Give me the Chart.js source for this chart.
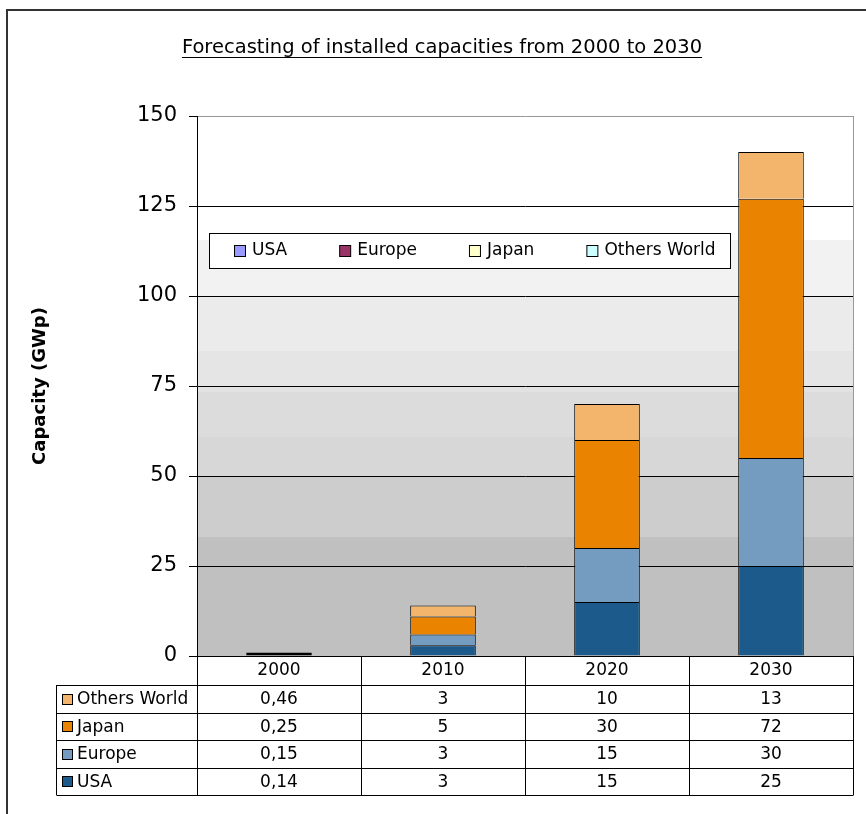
<!DOCTYPE html>
<html><head><meta charset="utf-8">
<script src="https://cdn.jsdelivr.net/npm/chart.js@4.4.1/dist/chart.umd.min.js"></script>
<style>html,body{margin:0;padding:0;background:#fff;} canvas{display:block;}</style>
</head><body>
<canvas id="c" width="866" height="814"></canvas>
<script>
const categories = ['2000', '2010', '2020', '2030'];
const usa = [0.14, 3, 15, 25];
const europe = [0.15, 3, 15, 30];
const japan = [0.25, 5, 30, 72];
const othersWorld = [0.46, 3, 10, 13];
const seriesNames = ['USA', 'Europe', 'Japan', 'Others World'];
const yTicks = [0, 25, 50, 75, 100, 125, 150];
const chartTitle = 'Forecasting of installed capacities from 2000 to 2030';
const yAxisTitle = 'Capacity (GWp)';

const barColors = ['#1b5a8a', '#739cc0', '#e98300', '#f2b56b'];
const legendColors = ['#9999ff', '#993366', '#ffffcc', '#ccffff'];
const FONT = '"DejaVu Sans", sans-serif';

const seriesValues = [usa, europe, japan, othersWorld];

const bgPlugin = {
  id: 'bg',
  beforeDraw(chart) {
    const ctx = chart.ctx, a = chart.chartArea, y = chart.scales.y;
    ctx.save();
    ctx.fillStyle = '#ffffff';
    ctx.fillRect(0, 0, chart.width, chart.height);
    const bands = [[150, 115.6, '#ffffff'], [115.6, 100, '#f2f2f2'], [100, 84.7, '#ebebeb'],
      [84.7, 75, '#e5e5e5'], [75, 73.3, '#e2e2e2'], [73.3, 60.8, '#dcdcdc'], [60.8, 50, '#d7d7d7'],
      [50, 33, '#cdcdcd'], [33, 0, '#c0c0c0']];
    bands.forEach(b => {
      const t = Math.round(y.getPixelForValue(b[0])), bt = Math.round(y.getPixelForValue(b[1]));
      ctx.fillStyle = b[2];
      ctx.fillRect(a.left, t, a.right - a.left, bt - t);
    });
    ctx.restore();
  }
};

const decorPlugin = {
  id: 'decor',
  afterDraw(chart) {
    const ctx = chart.ctx, a = chart.chartArea, xs = chart.scales.x;
    ctx.save();
    // outer frame
    ctx.strokeStyle = '#333';
    ctx.lineWidth = 2;
    ctx.beginPath();
    ctx.moveTo(7, 814); ctx.lineTo(7, 10); ctx.lineTo(866, 10);
    ctx.stroke();

    // plot area right border (gray)
    ctx.strokeStyle = '#999';
    ctx.lineWidth = 1;
    ctx.beginPath();
    ctx.moveTo(a.right + 0.5, a.top); ctx.lineTo(a.right + 0.5, a.bottom);
    ctx.stroke();

    // title
    ctx.fillStyle = '#000';
    ctx.font = '19.5px ' + FONT;
    ctx.textAlign = 'center';
    ctx.textBaseline = 'alphabetic';
    const tx = 442, ty = 53;
    ctx.fillText(chartTitle, tx, ty);
    const tw = ctx.measureText(chartTitle).width;
    ctx.strokeStyle = '#000';
    ctx.beginPath();
    ctx.moveTo(tx - tw / 2, ty + 4.5); ctx.lineTo(tx + tw / 2, ty + 4.5);
    ctx.stroke();

    // y axis title
    ctx.save();
    ctx.translate(40, 386);
    ctx.rotate(-Math.PI / 2);
    ctx.font = 'bold 18px ' + FONT;
    ctx.textAlign = 'center';
    ctx.textBaseline = 'middle';
    ctx.fillText(yAxisTitle, 0, 0);
    ctx.restore();

    // legend inside plot
    ctx.fillStyle = '#fff';
    ctx.fillRect(209.5, 233.5, 521, 35);
    ctx.strokeStyle = '#000';
    ctx.strokeRect(209.5, 233.5, 521, 35);
    ctx.font = '17px ' + FONT;
    ctx.textAlign = 'left';
    ctx.textBaseline = 'middle';
    let lx = 234;
    seriesNames.forEach((n, i) => {
      ctx.fillStyle = legendColors[i];
      ctx.fillRect(lx + 0.5, 245.5, 11, 11);
      ctx.strokeStyle = '#000';
      ctx.strokeRect(lx + 0.5, 245.5, 11, 11);
      ctx.fillStyle = '#000';
      ctx.fillText(n, lx + 18, 251);
      lx += 18 + ctx.measureText(n).width + 52;
    });

    // data table
    const catW = (a.right - a.left) / categories.length;
    const tableLeft = 56.5;
    const headTop = a.bottom;
    const headBottom = a.bottom + 29;
    const rowH = 27.5;
    const tableBottom = headBottom + rowH * seriesNames.length;
    ctx.strokeStyle = '#000';
    ctx.lineWidth = 1;
    ctx.beginPath();
    for (let i = 0; i <= categories.length; i++) {
      const vx = Math.round(a.left + i * catW) + 0.5;
      ctx.moveTo(vx, headTop); ctx.lineTo(vx, tableBottom);
    }
    ctx.moveTo(tableLeft, headBottom); ctx.lineTo(tableLeft, tableBottom);
    for (let r = 0; r <= seriesNames.length; r++) {
      const hy = Math.round(headBottom + r * rowH) + 0.5;
      ctx.moveTo(tableLeft, hy); ctx.lineTo(a.right + 0.5, hy);
    }
    ctx.stroke();

    ctx.font = '17px ' + FONT;
    ctx.fillStyle = '#000';
    ctx.textAlign = 'center';
    ctx.textBaseline = 'middle';
    categories.forEach((c, i) => {
      ctx.fillText(c, xs.getPixelForValue(i), (headTop + headBottom) / 2);
    });
    for (let r = 0; r < seriesNames.length; r++) {
      const s = seriesNames.length - 1 - r;
      const cy = headBottom + rowH * (r + 0.5);
      ctx.fillStyle = barColors[s];
      ctx.fillRect(62.5, Math.round(cy - 5) + 0.5, 10, 10);
      ctx.strokeStyle = '#000';
      ctx.strokeRect(62.5, Math.round(cy - 5) + 0.5, 10, 10);
      ctx.fillStyle = '#000';
      ctx.textAlign = 'left';
      ctx.fillText(seriesNames[s], 77, cy + 1);
      ctx.textAlign = 'center';
      seriesValues[s].forEach((v, i) => {
        ctx.fillText(String(v).replace('.', ','), xs.getPixelForValue(i), cy + 1);
      });
    }
    ctx.restore();
  }
};

new Chart(document.getElementById('c'), {
  type: 'bar',
  data: {
    labels: categories,
    datasets: seriesNames.map((n, i) => ({
      label: n,
      data: seriesValues[i],
      backgroundColor: barColors[i],
      borderColor: '#000',
      borderWidth: c => (c.raw !== undefined && c.raw < 1) ? 1 : { top: 1, left: 1, right: 1, bottom: 0 },
      borderSkipped: false,
      categoryPercentage: 1,
      barPercentage: 0.4
    }))
  },
  options: {
    responsive: false,
    devicePixelRatio: 1,
    animation: false,
    layout: { padding: { left: 0, top: 116, right: 13, bottom: 158 } },
    plugins: { legend: { display: false }, title: { display: false }, tooltip: { enabled: false } },
    scales: {
      x: { stacked: true, display: false },
      y: {
        stacked: true,
        min: 0, max: 150,
        afterBuildTicks: s => { s.ticks = yTicks.map(v => ({ value: v })); },
        afterFit: s => { s.width = 197; },
        border: { display: true, color: '#000', width: 1 },
        grid: {
          color: c => (c.tick && c.tick.value === 150) ? '#999' : '#000',
          tickColor: '#000',
          tickLength: 8,
          lineWidth: 1
        },
        ticks: { font: { family: FONT, size: 21 }, color: '#000', padding: 12 }
      }
    }
  },
  plugins: [bgPlugin, decorPlugin]
});
</script>
</body></html>
